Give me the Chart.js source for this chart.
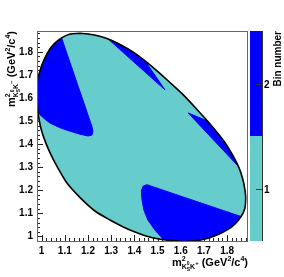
<!DOCTYPE html>
<html>
<head>
<meta charset="utf-8">
<script src="https://cdn.jsdelivr.net/npm/chart.js@4.4.1/dist/chart.umd.min.js"></script>
<style>
  html, body { margin: 0; padding: 0; background: #fff; }
  canvas { display: block; }
</style>
</head>
<body>
<canvas id="dalitz" width="284" height="277"></canvas>
<script>
// Dalitz plot boundary (GeV^2/c^4)
const boundaryX = [1.165, 1.20, 1.25, 1.30, 1.35, 1.40, 1.45, 1.50, 1.55, 1.612, 1.670, 1.715, 1.757, 1.795, 1.825, 1.850, 1.867, 1.877, 1.880,
                   1.876, 1.860, 1.835, 1.812, 1.775, 1.739, 1.700, 1.667, 1.609,
                   1.55, 1.50, 1.45, 1.40, 1.35, 1.295, 1.23, 1.167, 1.11, 1.071, 1.042, 1.020, 1.002, 0.990, 0.983, 0.978,
                   0.981, 0.988, 1.000, 1.015, 1.036, 1.055, 1.086, 1.120, 1.165];
const boundaryY = [1.880, 1.877, 1.867, 1.850, 1.825, 1.795, 1.757, 1.715, 1.670, 1.612, 1.55, 1.50, 1.45, 1.40, 1.35, 1.30, 1.25, 1.20, 1.165,
                   1.120, 1.086, 1.055, 1.036, 1.015, 1.000, 0.988, 0.981, 0.978,
                   0.983, 0.990, 1.002, 1.020, 1.042, 1.071, 1.11, 1.167, 1.23, 1.295, 1.35, 1.40, 1.45, 1.50, 1.55, 1.609,
                   1.667, 1.700, 1.739, 1.775, 1.812, 1.835, 1.860, 1.876, 1.880];

// bin 2 regions (everything else inside the boundary is bin 1)
const leftX = [1.086, 1.055, 1.036, 1.015, 1.000, 0.988, 0.981, 0.978, 0.983, 0.993, 1.014, 1.036, 1.079, 1.122, 1.165, 1.200, 1.217, 1.221, 1.217, 1.086];
const leftY = [1.860, 1.835, 1.812, 1.775, 1.739, 1.700, 1.667, 1.609, 1.550, 1.527, 1.508, 1.491, 1.471, 1.456, 1.443, 1.435, 1.439, 1.454, 1.476, 1.860];

const bottomX = [1.454, 1.860, 1.835, 1.812, 1.775, 1.739, 1.700, 1.667, 1.609, 1.550, 1.524, 1.489, 1.458, 1.441, 1.433, 1.430, 1.437, 1.454];
const bottomY = [1.224, 1.086, 1.055, 1.036, 1.015, 1.000, 0.988, 0.981, 0.978, 0.983, 0.988, 1.027, 1.071, 1.114, 1.157, 1.196, 1.217, 1.224];

const sliverAX = [1.286, 1.300, 1.350, 1.400, 1.446, 1.532, 1.286];
const sliverAY = [1.856, 1.850, 1.825, 1.795, 1.760, 1.635, 1.856];

const sliverBX = [1.632, 1.715, 1.757, 1.795, 1.825, 1.847, 1.632];
const sliverBY = [1.535, 1.500, 1.450, 1.400, 1.350, 1.305, 1.535];

const binNumbers = [1, 2];
const binColors = ['#66cccc', '#0000ff'];
const xRange = [0.98, 1.89];
const yRange = [0.98, 1.89];
const zRange = [0.5, 2.5];

const FONT = '"Liberation Sans", Arial, sans-serif';

function pts(xs, ys) {
    return xs.map((x, i) => ({ x: x, y: ys[i] }));
}

function region(xs, ys, color, order, tension) {
    return {
        data: pts(xs, ys),
        borderColor: color,
        backgroundColor: color,
        borderWidth: 1,
        fill: 'shape',
        pointRadius: 0,
        tension: tension || 0,
        order: order
    };
}

// text with super/subscripts, parts = [text, size, dy, noAdvance]
function richWidth(ctx, parts) {
    let w = 0;
    parts.forEach(p => {
        ctx.font = 'bold ' + p[1] + 'px ' + FONT;
        if (!p[3]) w += ctx.measureText(p[0]).width;
    });
    return w;
}
function richDraw(ctx, parts, x, y) {
    parts.forEach(p => {
        ctx.font = 'bold ' + p[1] + 'px ' + FONT;
        ctx.fillText(p[0], x, y + p[2]);
        if (!p[3]) x += ctx.measureText(p[0]).width;
    });
}

function titleParts(sign) {
    return [
        ['m', 11, 0],
        ['2', 7, -5, true],
        ['K', 7, 3],
        ['0', 5, -1, true],
        ['S', 5, 5],
        ['K', 7, 3],
        [sign, 6, -1],
        [' (GeV', 11, 0],
        ['2', 7, -5],
        ['/c', 11, 0],
        ['4', 7, -5],
        [')', 11, 0]
    ];
}

const rootStyle = {
    id: 'rootStyle',
    beforeDatasetsDraw(chart) {
        const ctx = chart.ctx;
        const a = chart.chartArea;
        ctx.save();
        ctx.strokeStyle = '#222';
        ctx.lineWidth = 1;
        [chart.scales.x, chart.scales.y].forEach((s, k) => {
            for (let i = 0; i <= 50; i++) {
                const v = Math.round((s.min + i * 0.02) * 100) / 100;
                if (v > s.max) break;
                const major = Math.abs(v * 10 - Math.round(v * 10)) < 1e-6;
                const len = major ? 6 : 3;
                const p = Math.round(s.getPixelForValue(v)) + 0.5;
                ctx.beginPath();
                if (k === 0) { ctx.moveTo(p, a.bottom); ctx.lineTo(p, a.bottom - len); }
                else { ctx.moveTo(a.left, p); ctx.lineTo(a.left + len, p); }
                ctx.stroke();
            }
        });
        ctx.restore();
    },
    afterDraw(chart) {
        const ctx = chart.ctx;
        const a = chart.chartArea;
        const z = chart.scales.z;
        ctx.save();
        // frame
        ctx.strokeStyle = '#666';
        ctx.lineWidth = 1;
        ctx.strokeRect(a.left + 0.5, a.top + 0.5, a.right - a.left - 1, a.bottom - a.top);

        // palette
        const bx0 = a.right + 2, bx1 = a.right + 14;
        binNumbers.forEach((b, i) => {
            const yTop = z.getPixelForValue(b + 0.5);
            const yBot = z.getPixelForValue(b - 0.5);
            ctx.fillStyle = binColors[i];
            ctx.fillRect(bx0, yTop, bx1 - bx0, yBot - yTop);
        });
        ctx.strokeStyle = '#333';
        ctx.beginPath();
        ctx.moveTo(bx1 + 0.5, a.top);
        ctx.lineTo(bx1 + 0.5, a.bottom);
        ctx.stroke();
        ctx.fillStyle = '#000';
        ctx.font = 'bold 10px ' + FONT;
        ctx.textAlign = 'left';
        ctx.textBaseline = 'middle';
        binNumbers.forEach(b => {
            const y = Math.round(z.getPixelForValue(b)) + 0.5;
            ctx.beginPath();
            ctx.moveTo(bx1, y);
            ctx.lineTo(bx1 - 6, y);
            ctx.stroke();
            ctx.fillText(String(b), bx1 + 2, y + 0.5);
        });

        // palette title
        ctx.save();
        ctx.translate(281, a.top);
        ctx.rotate(-Math.PI / 2);
        ctx.textAlign = 'right';
        ctx.textBaseline = 'alphabetic';
        ctx.fillText('Bin number', 0, 0);
        ctx.restore();

        // axis titles
        ctx.textAlign = 'left';
        ctx.textBaseline = 'alphabetic';
        const xp = titleParts('+');
        richDraw(ctx, xp, a.right - richWidth(ctx, xp), 266);

        const yp = titleParts('\u2212');
        ctx.save();
        ctx.translate(15, a.top);
        ctx.rotate(-Math.PI / 2);
        richDraw(ctx, yp, -richWidth(ctx, yp), 0);
        ctx.restore();
        ctx.restore();
    }
};

const tickFmt = v => String(Math.round(v * 100) / 100);

new Chart(document.getElementById('dalitz'), {
    type: 'line',
    data: {
        datasets: [
            {
                data: pts(boundaryX, boundaryY),
                borderColor: '#000',
                borderWidth: 1.6,
                fill: false,
                pointRadius: 0,
                tension: 0.3,
                order: 0
            },
            region(leftX, leftY, binColors[1], 1),
            region(bottomX, bottomY, binColors[1], 1),
            region(sliverAX, sliverAY, binColors[1], 1),
            region(sliverBX, sliverBY, binColors[1], 1),
            region(boundaryX, boundaryY, binColors[0], 2, 0.3)
        ]
    },
    options: {
        responsive: false,
        animation: false,
        events: [],
        layout: { padding: { left: 0, right: 36, top: 31, bottom: 0 } },
        plugins: {
            legend: { display: false },
            tooltip: { enabled: false }
        },
        scales: {
            x: {
                type: 'linear',
                min: xRange[0],
                max: xRange[1],
                afterFit: s => { s.height = 36; },
                grid: { display: false, drawTicks: false },
                border: { display: false },
                ticks: {
                    stepSize: 0.1,
                    includeBounds: false,
                    autoSkip: false,
                    maxRotation: 0,
                    padding: 4,
                    color: '#000',
                    font: { family: FONT, size: 10, weight: 'bold' },
                    callback: tickFmt
                }
            },
            y: {
                type: 'linear',
                min: yRange[0],
                max: yRange[1],
                afterFit: s => { s.width = 37; },
                grid: { display: false, drawTicks: false },
                border: { display: false },
                ticks: {
                    stepSize: 0.1,
                    includeBounds: false,
                    autoSkip: false,
                    padding: 4,
                    color: '#000',
                    font: { family: FONT, size: 10, weight: 'bold' },
                    callback: tickFmt
                }
            },
            z: {
                type: 'linear',
                axis: 'y',
                position: 'right',
                display: false,
                min: zRange[0],
                max: zRange[1]
            }
        }
    },
    plugins: [rootStyle]
});
</script>
</body>
</html>
